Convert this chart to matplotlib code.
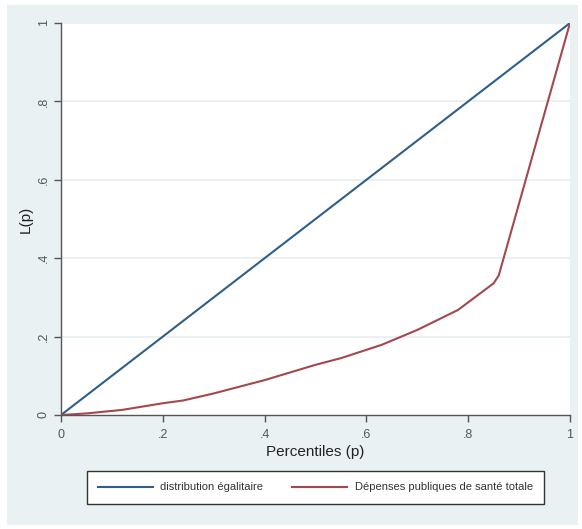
import matplotlib.pyplot as plt

# Lorenz curve data
p_egal = [0.0, 1.0]
L_egal = [0.0, 1.0]

p_dep = [0.0, 0.05, 0.12, 0.2, 0.24, 0.3, 0.4, 0.5, 0.55, 0.63, 0.7, 0.78, 0.85, 0.86, 1.0]
L_dep = [0.0, 0.004, 0.013, 0.03, 0.037, 0.055, 0.089, 0.128, 0.145, 0.179, 0.217, 0.268, 0.336, 0.356, 1.0]

ticks = [0, 0.2, 0.4, 0.6, 0.8, 1]
tick_labels = ["0", ".2", ".4", ".6", ".8", "1"]

plt.rcParams['font.family'] = ['Liberation Sans', 'DejaVu Sans']

fig = plt.figure(figsize=(5.82, 5.29), dpi=100)
fig.patch.set_facecolor('white')

# Stata-like light background panel
bg = fig.add_axes([7 / 582, 1 - 525 / 529, 571 / 582, 520 / 529], zorder=-1)
bg.set_facecolor('#eaf1f3')
bg.set_xticks([])
bg.set_yticks([])
for s in bg.spines.values():
    s.set_visible(False)

ax = fig.add_axes([61 / 582, 114 / 529, 509 / 582, 392 / 529])
ax.set_facecolor('white')

blue = '#2f5f88'
red = '#a4474f'
ax.plot(p_egal, L_egal, color=blue, lw=1.5, label='distribution égalitaire', zorder=3)
ax.plot(p_dep, L_dep, color=red, lw=1.5, label='Dépenses publiques de santé totale', zorder=3)

ax.set_xlim(0, 1)
ax.set_ylim(0, 1)
ax.set_xticks(ticks)
ax.set_xticklabels(tick_labels)
ax.set_yticks(ticks)
ax.set_yticklabels(tick_labels, rotation=90, va='center')

for y in ticks[1:]:
    ax.axhline(y, color='#e8eff1', lw=1.2, zorder=1)

for s in ['top', 'right']:
    ax.spines[s].set_visible(False)
for s in ['left', 'bottom']:
    ax.spines[s].set_color('#555555')
    ax.spines[s].set_linewidth(1.0)

ax.tick_params(direction='out', length=5, width=1, color='#555555',
               labelsize=9, labelcolor='#555555')
ax.tick_params(axis='x', pad=5)
ax.tick_params(axis='y', pad=3)

ax.set_xlabel('Percentiles (p)', fontsize=11, labelpad=3, color='#222222')
ax.set_ylabel('L(p)', fontsize=11, labelpad=4, color='#222222')

fig.legend(loc='center', ncol=2, bbox_to_anchor=(315.5 / 582, 1 - 487.5 / 529),
           frameon=True, fancybox=False, edgecolor='#333333', framealpha=1,
           fontsize=8, handlelength=4.9, handletextpad=0.7, columnspacing=2.6,
           borderpad=1.0, labelcolor='#333333')

fig.savefig('out.png', dpi=100)
